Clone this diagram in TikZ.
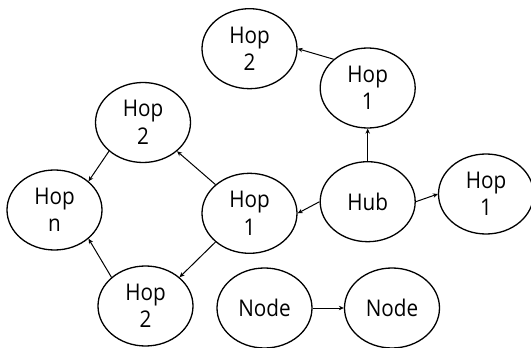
\documentclass[tikz,border=0pt]{standalone}
\usepackage{fontspec}
\setmainfont{Open Sans}[FakeStretch=0.9]
\usetikzlibrary{shapes.geometric,arrows.meta}
\begin{document}
\begin{tikzpicture}[x=1pt,y=-1pt,
  hopnode/.style={draw,ellipse,line width=1.3pt,minimum width=95pt,minimum height=80pt,inner sep=0pt,align=center,font=\fontsize{23}{27.5}\selectfont},
  link/.style={line width=1pt,-{Stealth[length=5pt,width=4.5pt]}}]
\useasboundingbox (0,0) rectangle (531,348);
\node[hopnode] (h2t) at (249.5,48.7) {Hop\\2};
\node[hopnode] (h1u) at (367.7,88) {Hop\\1};
\node[hopnode] (h2l) at (143,122.5) {Hop\\2};
\node[hopnode] (hn) at (54.5,210) {Hop\\n};
\node[hopnode] (h1m) at (249.5,213.3) {Hop\\1};
\node[hopnode] (hub) at (367.7,201.7) {Hub};
\node[hopnode] (h1r) at (486,194) {Hop\\1};
\node[hopnode] (h2b) at (145.5,306) {Hop\\2};
\node[hopnode] (n1) at (264.5,308) {Node};
\node[hopnode] (n2) at (392,308) {Node};
\draw[link] (h1u.north west) -- (h2t.east);
\draw[link] (hub.north) -- (h1u.south);
\draw[link] (hub.west) -- (h1m.east);
\draw[link] (hub.east) -- (h1r.west);
\draw[link] (h1m.north west) -- (h2l.south east);
\draw[link] (h1m.south west) -- (h2b.north east);
\draw[link] (h2l.south west) -- (hn.north east);
\draw[link] (h2b.north west) -- (hn.south east);
\draw[link] (n1.east) -- (n2.west);
\end{tikzpicture}
\end{document}
